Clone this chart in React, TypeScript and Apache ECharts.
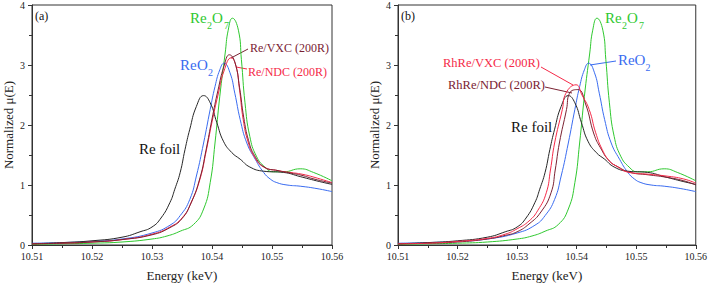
import React, { useEffect, useRef } from "react";
import * as echarts from "echarts";

// Reference spectra (shared by both panels)
const reFoilE = [10.51, 10.515, 10.52, 10.525, 10.528, 10.53, 10.5315, 10.533, 10.5338, 10.5347, 10.5355, 10.5363, 10.5374, 10.5386, 10.5397, 10.5408, 10.5419, 10.5433, 10.5447, 10.5463, 10.5486, 10.5519, 10.5547, 10.5574, 10.56];
const reFoilMu = [0.02, 0.04, 0.07, 0.13, 0.22, 0.30, 0.45, 0.71, 0.93, 1.21, 1.59, 1.93, 2.31, 2.49, 2.37, 2.04, 1.73, 1.54, 1.43, 1.30, 1.23, 1.21, 1.14, 1.07, 1.01];

const re2o7E = [10.51, 10.515, 10.52, 10.525, 10.53, 10.5325, 10.5347, 10.5369, 10.5386, 10.5397, 10.5405, 10.5413, 10.5422, 10.5427, 10.5434, 10.5444, 10.5449, 10.5455, 10.5463, 10.5474, 10.5488, 10.5502, 10.5519, 10.5547, 10.5569, 10.56];
const re2o7Mu = [0.01, 0.02, 0.03, 0.05, 0.10, 0.15, 0.23, 0.34, 0.60, 1.04, 1.70, 2.48, 3.20, 3.58, 3.78, 3.58, 3.09, 2.37, 1.81, 1.48, 1.30, 1.22, 1.22, 1.27, 1.21, 1.07];

const reo2E = [10.51, 10.515, 10.52, 10.525, 10.53, 10.533, 10.5347, 10.5363, 10.5374, 10.5386, 10.5397, 10.5405, 10.5413, 10.542, 10.543, 10.5438, 10.5447, 10.5458, 10.5472, 10.5486, 10.5497, 10.5508, 10.5525, 10.5547, 10.5575, 10.56];
const reo2Mu = [0.03, 0.04, 0.06, 0.10, 0.20, 0.33, 0.49, 0.76, 1.15, 1.70, 2.26, 2.64, 2.92, 3.03, 2.87, 2.53, 2.09, 1.70, 1.43, 1.21, 1.10, 1.04, 1.00, 0.98, 0.94, 0.89];

// Panel (a) samples
const reVxcE = [10.51, 10.515, 10.52, 10.525, 10.53, 10.533, 10.535, 10.5365, 10.538, 10.539, 10.54, 10.541, 10.542, 10.5429, 10.5438, 10.5446, 10.5453, 10.5461, 10.5471, 10.5487, 10.551, 10.553, 10.555, 10.557, 10.56];
const reVxcMu = [0.02, 0.03, 0.05, 0.09, 0.17, 0.29, 0.44, 0.70, 1.12, 1.58, 2.10, 2.58, 2.98, 3.17, 3.05, 2.62, 2.12, 1.74, 1.49, 1.30, 1.24, 1.20, 1.16, 1.10, 1.03];

const reNdcE = [10.51, 10.515, 10.52, 10.525, 10.53, 10.533, 10.535, 10.5365, 10.538, 10.539, 10.54, 10.541, 10.542, 10.5432, 10.544, 10.5446, 10.5452, 10.546, 10.547, 10.5486, 10.551, 10.553, 10.555, 10.557, 10.56];
const reNdcMu = [0.02, 0.03, 0.05, 0.09, 0.18, 0.30, 0.45, 0.70, 1.10, 1.55, 2.05, 2.50, 2.90, 3.12, 2.98, 2.58, 2.09, 1.72, 1.48, 1.30, 1.24, 1.21, 1.18, 1.13, 1.04];

// Panel (b) samples
const rhReVxcE = [10.51, 10.515, 10.52, 10.525, 10.528, 10.53, 10.532, 10.5335, 10.5349, 10.5356, 10.5363, 10.5376, 10.5382, 10.5399, 10.5409, 10.5421, 10.5432, 10.5443, 10.5455, 10.5466, 10.5488, 10.552, 10.555, 10.558, 10.56];
const rhReVxcMu = [0.02, 0.03, 0.06, 0.11, 0.18, 0.27, 0.40, 0.58, 0.87, 1.25, 1.70, 2.26, 2.53, 2.67, 2.50, 2.26, 1.87, 1.59, 1.40, 1.32, 1.21, 1.18, 1.15, 1.10, 1.03];

const rhReNdcE = [10.51, 10.515, 10.52, 10.525, 10.528, 10.53, 10.532, 10.534, 10.5357, 10.5364, 10.5371, 10.5383, 10.5388, 10.5402, 10.5415, 10.5429, 10.544, 10.5455, 10.547, 10.549, 10.552, 10.555, 10.558, 10.56];
const rhReNdcMu = [0.02, 0.03, 0.05, 0.10, 0.16, 0.22, 0.35, 0.55, 0.87, 1.25, 1.70, 2.26, 2.53, 2.59, 2.35, 1.85, 1.62, 1.40, 1.30, 1.21, 1.17, 1.13, 1.07, 1.00];

const xTicks = ["10.51", "10.52", "10.53", "10.54", "10.55", "10.56"];

const C_GREEN = "#2fc82f";
const C_BLUE = "#3a6cf0";
const C_BLACK = "#262626";
const C_RED = "#f52a48";
const C_MAROON = "#7a2232";
const FONT = "serif";

const pairs = (xs: number[], ys: number[]) => xs.map((x, i) => [x, ys[i]]);

function txt(x: number, y: number, text: string, color: string, size: number) {
  return {
    type: "text",
    x,
    y,
    style: {
      text,
      fill: color,
      fontFamily: FONT,
      fontSize: size,
      textAlign: "left",
      textVerticalAlign: "middle",
    },
  };
}
function ln(x1: number, y1: number, x2: number, y2: number, color: string) {
  return { type: "line", shape: { x1, y1, x2, y2 }, style: { stroke: color, lineWidth: 1 } };
}

export default function App() {
  const ref = useRef<HTMLDivElement>(null);
  useEffect(() => {
    if (!ref.current) return;
    const chart = echarts.init(ref.current, undefined, { renderer: "svg" });
    const axisX = (gridIndex: number) => ({
      type: "value",
      gridIndex,
      min: 10.51,
      max: 10.56,
      interval: 0.01,
      name: "Energy (keV)",
      nameLocation: "middle",
      nameGap: 24,
      nameTextStyle: { fontFamily: FONT, fontSize: 13, color: "#222" },
      axisLine: { lineStyle: { color: "#333", width: 1 } },
      axisTick: { length: 4, lineStyle: { color: "#333" } },
      minorTick: { show: true, splitNumber: 2, length: 3, lineStyle: { color: "#333" } },
      splitLine: { show: false },
      axisLabel: {
        fontFamily: FONT,
        fontSize: 10,
        color: "#222",
        margin: 6,
        formatter: (v: number) => xTicks.find((t) => Math.abs(parseFloat(t) - v) < 1e-6) ?? v.toFixed(2),
      },
    });
    const axisY = (gridIndex: number) => ({
      type: "value",
      gridIndex,
      min: 0,
      max: 4,
      interval: 1,
      name: "Normalized μ(E)",
      nameLocation: "middle",
      nameGap: 17,
      nameTextStyle: { fontFamily: FONT, fontSize: 13, color: "#222" },
      axisLine: { show: true, lineStyle: { color: "#333", width: 1 } },
      axisTick: { show: true, length: 4, lineStyle: { color: "#333" } },
      minorTick: { show: true, splitNumber: 2, length: 3, lineStyle: { color: "#333" } },
      splitLine: { show: false },
      axisLabel: { fontFamily: FONT, fontSize: 10, color: "#222", margin: 7 },
    });
    const line = (name: string, xs: number[], ys: number[], color: string, idx: number) => ({
      type: "line",
      name,
      xAxisIndex: idx,
      yAxisIndex: idx,
      data: pairs(xs, ys),
      showSymbol: false,
      symbol: "none",
      smooth: 0.5,
      lineStyle: { color, width: 1 },
      itemStyle: { color },
    });
    chart.setOption({
      animation: false,
      textStyle: { fontFamily: FONT },
      grid: [
        { left: 32, right: 378, top: 5, bottom: 41, show: true, borderColor: "#333", borderWidth: 1, backgroundColor: "transparent" },
        { left: 398, right: 13, top: 5, bottom: 41, show: true, borderColor: "#333", borderWidth: 1, backgroundColor: "transparent" },
      ],
      xAxis: [axisX(0), axisX(1)],
      yAxis: [axisY(0), axisY(1)],
      series: [
        line("Re2O7", re2o7E, re2o7Mu, C_GREEN, 0),
        line("ReO2", reo2E, reo2Mu, C_BLUE, 0),
        line("Re foil", reFoilE, reFoilMu, C_BLACK, 0),
        line("Re/NDC (200R)", reNdcE, reNdcMu, C_RED, 0),
        line("Re/VXC (200R)", reVxcE, reVxcMu, C_MAROON, 0),
        line("Re2O7", re2o7E, re2o7Mu, C_GREEN, 1),
        line("ReO2", reo2E, reo2Mu, C_BLUE, 1),
        line("Re foil", reFoilE, reFoilMu, C_BLACK, 1),
        line("RhRe/NDC (200R)", rhReNdcE, rhReNdcMu, C_MAROON, 1),
        line("RhRe/VXC (200R)", rhReVxcE, rhReVxcMu, C_RED, 1),
      ],
      graphic: [
        // panel (a)
        txt(35, 16, "(a)", "#111", 12),
        txt(190, 18, "Re", C_GREEN, 15),
        txt(207, 25, "2", C_GREEN, 10),
        txt(212, 18, "O", C_GREEN, 15),
        txt(224, 25, "7", C_GREEN, 10),
        txt(180, 65, "Re", C_BLUE, 15),
        txt(197, 65, "O", C_BLUE, 15),
        txt(208, 72, "2", C_BLUE, 10),
        txt(250, 48, "Re/VXC (200R)", C_MAROON, 12),
        ln(231, 58, 248, 49, C_MAROON),
        txt(248, 72, "Re/NDC (200R)", C_RED, 12),
        ln(236, 67, 247, 69, C_RED),
        txt(139, 149, "Re foil", "#111", 15),
        // panel (b)
        txt(401, 16, "(b)", "#111", 12),
        txt(605, 18, "Re", C_GREEN, 15),
        txt(622, 25, "2", C_GREEN, 10),
        txt(627, 18, "O", C_GREEN, 15),
        txt(639, 25, "7", C_GREEN, 10),
        txt(618, 60, "Re", C_BLUE, 15),
        txt(634.5, 60, "O", C_BLUE, 15),
        txt(645.5, 67, "2", C_BLUE, 10),
        ln(590, 65, 616, 61, C_BLUE),
        txt(443, 63, "RhRe/VXC (200R)", C_RED, 12.5),
        ln(541, 67, 573, 85, C_RED),
        txt(448, 85, "RhRe/NDC (200R)", C_MAROON, 12.5),
        ln(545, 87, 572, 93, C_MAROON),
        txt(511, 127, "Re foil", "#111", 15),
      ],
    });
    return () => chart.dispose();
  }, []);
  return <div ref={ref} style={{ width: 710, height: 287, position: "absolute", left: 0, top: 0 }} />;
}
